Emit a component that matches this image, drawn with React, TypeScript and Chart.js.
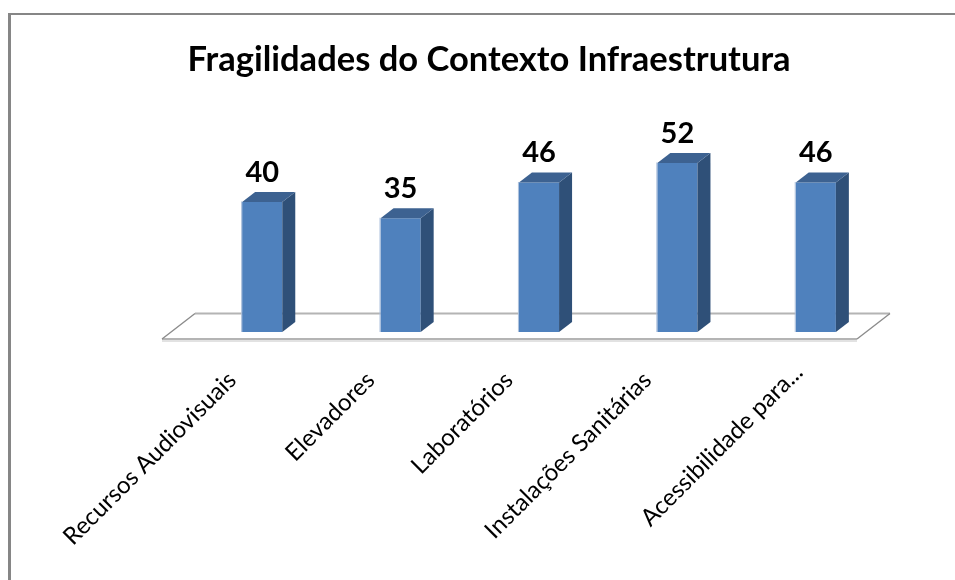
import React, { useEffect, useRef } from "react";
import { Chart, registerables, Plugin } from "chart.js";

Chart.register(...registerables);

const categories = ["Recursos Audiovisuais", "Elevadores", "Laboratórios", "Instalações Sanitárias", "Acessibilidade para..."];
const values = [40, 35, 46, 52, 46];
const chartTitle = "Fragilidades do Contexto Infraestrutura";

const DX = 13;
const DY = 10;

const scene: Plugin<"bar"> = {
  id: "scene",
  beforeDraw(chart) {
    const items: any = (chart.scales.x as any).getLabelItems();
    if (!items.nudged && items[4]) {
      items[4].options.translation[0] += 13;
      items[4].options.translation[1] -= 8;
      items.nudged = true;
    }
  },
  beforeDatasetsDraw(chart) {
    const { ctx, chartArea: a, scales } = chart;
    const base = scales.y.getPixelForValue(0);
    const fl = a.left - 31, fr = a.right - 28, fy = base + 7;
    const bl = a.left + 2, br = a.right + 5, by = base - 18.5;
    ctx.save();
    ctx.beginPath();
    ctx.moveTo(fl, fy); ctx.lineTo(fr, fy); ctx.lineTo(br, by); ctx.lineTo(bl, by); ctx.closePath();
    ctx.fillStyle = "#ffffff";
    ctx.fill();
    ctx.strokeStyle = "#e2e2e2";
    ctx.lineWidth = 2;
    ctx.beginPath();
    ctx.moveTo(fl, fy + 2); ctx.lineTo(fr, fy + 2);
    ctx.stroke();
    ctx.strokeStyle = "#b4b4b4";
    ctx.lineWidth = 2;
    ctx.beginPath();
    ctx.moveTo(bl, by); ctx.lineTo(br, by);
    ctx.moveTo(fl, fy); ctx.lineTo(fr, fy);
    ctx.stroke();
    ctx.strokeStyle = "#8c8c8c";
    ctx.lineWidth = 1.4;
    ctx.beginPath();
    ctx.moveTo(fl, fy); ctx.lineTo(bl, by);
    ctx.moveTo(fr, fy); ctx.lineTo(br, by);
    ctx.stroke();
    ctx.restore();
  },
  afterDatasetsDraw(chart) {
    const { ctx } = chart;
    const meta = chart.getDatasetMeta(0);
    ctx.save();
    meta.data.forEach((el: any, i: number) => {
      const { x, y, base, width } = el.getProps(["x", "y", "base", "width"], true);
      const l = x - width / 2;
      const r = x + width / 2;
      ctx.fillStyle = "#2f5078";
      ctx.beginPath();
      ctx.moveTo(r, y); ctx.lineTo(r + DX, y - DY); ctx.lineTo(r + DX, base - DY); ctx.lineTo(r, base); ctx.closePath();
      ctx.fill();
      ctx.fillStyle = "#3d6291";
      ctx.beginPath();
      ctx.moveTo(l, y); ctx.lineTo(l + DX, y - DY); ctx.lineTo(r + DX, y - DY); ctx.lineTo(r, y); ctx.closePath();
      ctx.fill();
      ctx.fillStyle = "#a9bedb";
      ctx.fillRect(l - 1, y - 0.5, 1, base - y + 0.5);
      ctx.fillStyle = "#000000";
      ctx.font = "bold 29px Lato";
      ctx.textAlign = "center";
      ctx.textBaseline = "alphabetic";
      ctx.fillText(String(values[i]), x, y - 20);
    });
    ctx.restore();
  },
};

export default function App() {
  const ref = useRef<HTMLCanvasElement>(null);
  useEffect(() => {
    const chart = new Chart(ref.current!, {
      type: "bar",
      data: {
        labels: categories,
        datasets: [{ data: values, backgroundColor: "#4f81bd", barPercentage: 0.29, categoryPercentage: 1 }],
      },
      options: {
        responsive: false,
        animation: false,
        layout: { padding: { left: 70, right: 70, top: 0, bottom: 0 } },
        plugins: {
          legend: { display: false },
          tooltip: { enabled: false },
          title: {
            display: true,
            text: chartTitle,
            color: "#000000",
            font: { family: "Lato", size: 34.5, weight: "bold" },
            padding: { top: 39, bottom: 0 },
          },
        },
        scales: {
          x: {
            grid: { display: false },
            border: { display: false },
            afterFit: (s: any) => { s.height = 248; },
            ticks: {
              color: "#000000",
              font: { family: "Lato", size: 24 },
              minRotation: 45,
              maxRotation: 45,
              autoSkip: false,
              padding: 26,
              labelOffset: -30,
            },
          },
          y: {
            display: true,
            min: 0,
            max: 77.4,
            grid: { display: false },
            border: { display: false },
            ticks: { display: false },
            afterFit: (s: any) => { s.width = 100; },
          },
        },
      },
      plugins: [scene],
    });
    return () => chart.destroy();
  }, []);
  return (
    <div style={{ position: "fixed", inset: 0, background: "#fff", overflow: "hidden" }}>
      <div style={{ position: "absolute", left: 8, top: 13, right: 0, bottom: 0, borderLeft: "3px solid #868686", borderTop: "2px solid #868686" }} />
      <canvas ref={ref} width={932} height={580} style={{ position: "absolute", left: 23, top: 0 }} />
    </div>
  );
}
